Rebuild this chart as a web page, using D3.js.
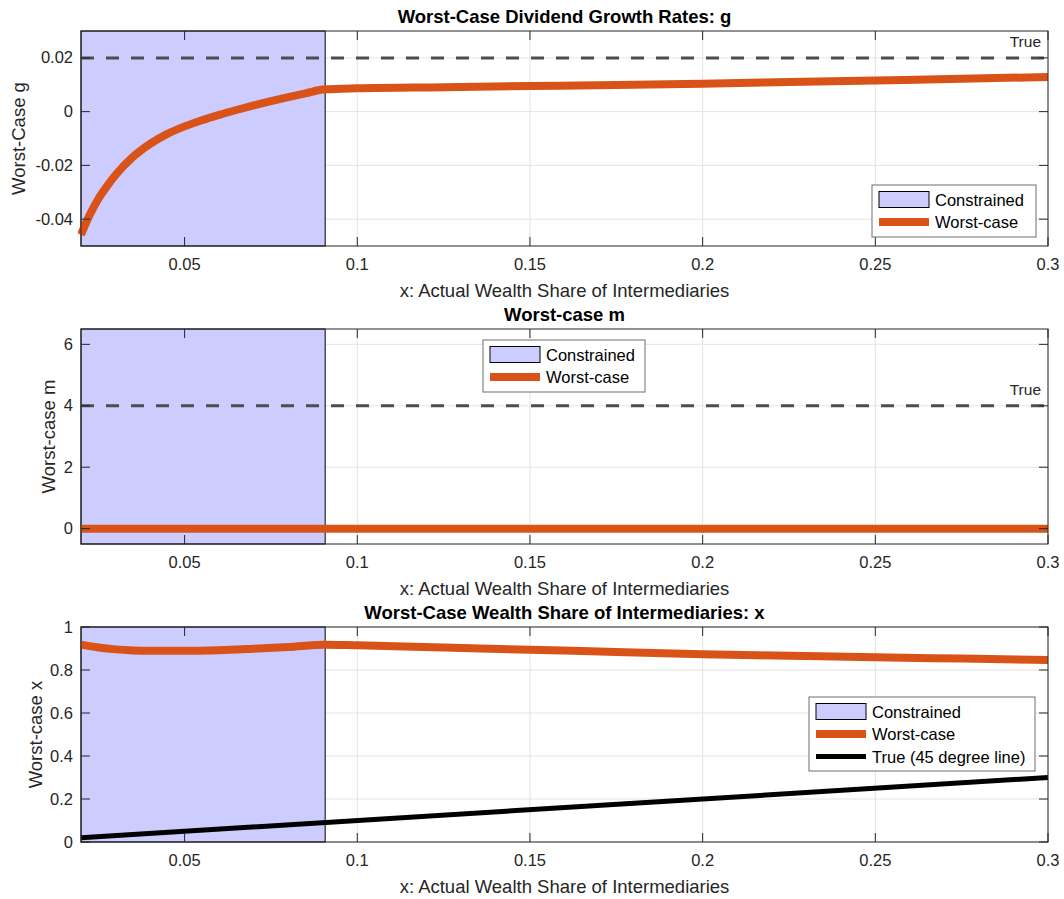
<!DOCTYPE html>
<html><head><meta charset="utf-8">
<script src="https://cdn.jsdelivr.net/npm/d3@7"></script>
<style>body{margin:0;background:#fff}svg{display:block;font-family:"Liberation Sans",Arial,Helvetica,sans-serif}</style>
</head><body><svg id="c" width="1064" height="899"></svg>
<script>
// ---- data ----
const xDomain = [0.02, 0.3];
const xTicks = [0.05, 0.1, 0.15, 0.2, 0.25, 0.3];
const constrainedEnd = 0.0907;

const gX = [0.02, 0.0225, 0.025, 0.0275, 0.03, 0.035, 0.04, 0.045, 0.05, 0.055, 0.06, 0.065, 0.07, 0.075, 0.08, 0.085, 0.0907, 0.1, 0.125, 0.15, 0.175, 0.2, 0.225, 0.25, 0.275, 0.3];
const gVals = [-0.0458, -0.0385, -0.0325, -0.0278, -0.0236, -0.0169, -0.0120, -0.0083, -0.0055, -0.0032, -0.0012, 0.0006, 0.0023, 0.0039, 0.0054, 0.0068, 0.0083, 0.0087, 0.0091, 0.0095, 0.0099, 0.0104, 0.0110, 0.0116, 0.0122, 0.0129];
const gTrue = 0.02;
const gTicks = [-0.04, -0.02, 0, 0.02];
const gTickLabels = ["-0.04", "-0.02", "0", "0.02"];

const mX = [0.02, 0.0907, 0.3];
const mVals = [0, 0, 0];
const mTrue = 4;
const mTicks = [0, 2, 4, 6];
const mTickLabels = ["0", "2", "4", "6"];

const wX = [0.02, 0.025, 0.03, 0.035, 0.04, 0.05, 0.06, 0.07, 0.08, 0.0907, 0.1, 0.125, 0.15, 0.175, 0.2, 0.225, 0.25, 0.275, 0.3];
const wVals = [0.918, 0.905, 0.896, 0.891, 0.889, 0.889, 0.892, 0.899, 0.907, 0.918, 0.915, 0.905, 0.894, 0.884, 0.873, 0.866, 0.859, 0.853, 0.847];
const trueLineX = [0.02, 0.3];
const trueLineY = [0.02, 0.3];
const wTicks = [0, 0.2, 0.4, 0.6, 0.8, 1];
const wTickLabels = ["0", "0.2", "0.4", "0.6", "0.8", "1"];

const xLabel = "x: Actual Wealth Share of Intermediaries";
const titles = ["Worst-Case Dividend Growth Rates: g", "Worst-case m", "Worst-Case Wealth Share of Intermediaries: x"];
const yLabels = ["Worst-Case g", "Worst-case m", "Worst-case x"];

// ---- styles ----
const ORANGE = "#D95319", PATCH = "#CCCCFF", AX = "#262626", GRID = "#e3e3e3", DASH = "#4d4d4d";
const L = 81, R = 1048;
const svg = d3.select("#c");
const x = d3.scaleLinear().domain(xDomain).range([L, R]);

const panels = [
  {top: 31, bottom: 246, domain: [-0.05, 0.03], ticks: gTicks, labels: gTickLabels, ylx: 25,
   series: gX.map((d,i)=>[d,gVals[i]]), trueVal: gTrue, trueLabelY: 47,
   legend: {x: 872, y: 185, w: 164, h: 52, items: ["patch","orange"]}},
  {top: 329, bottom: 544, domain: [-0.5, 6.5], ticks: mTicks, labels: mTickLabels, ylx: 55,
   series: mX.map((d,i)=>[d,mVals[i]]), trueVal: mTrue, trueLabelY: 395,
   legend: {x: 483, y: 340, w: 162, h: 52, items: ["patch","orange"]}},
  {top: 627, bottom: 842, domain: [0, 1], ticks: wTicks, labels: wTickLabels, ylx: 42,
   series: wX.map((d,i)=>[d,wVals[i]]), trueVal: null, black: trueLineX.map((d,i)=>[d,trueLineY[i]]),
   legend: {x: 809, y: 697, w: 226, h: 74, items: ["patch","orange","black"]}}
];
const legendText = {patch: "Constrained", orange: "Worst-case", black: "True (45 degree line)"};

panels.forEach((p, pi) => {
  const y = d3.scaleLinear().domain(p.domain).range([p.bottom, p.top]);
  const g = svg.append("g");
  const clipId = "clip" + pi;
  g.append("clipPath").attr("id", clipId).append("rect")
    .attr("x", L - 3).attr("y", p.top - 6).attr("width", R - L + 4).attr("height", p.bottom - p.top + 12);

  // grid
  g.append("g").selectAll("line").data(xTicks).join("line")
    .attr("x1", d=>x(d)).attr("x2", d=>x(d)).attr("y1", p.top).attr("y2", p.bottom)
    .attr("stroke", GRID).attr("stroke-width", 1);
  g.append("g").selectAll("line").data(p.ticks).join("line")
    .attr("x1", L).attr("x2", R).attr("y1", d=>y(d)).attr("y2", d=>y(d))
    .attr("stroke", GRID).attr("stroke-width", 1);

  // constrained patch
  g.append("rect").attr("x", x(xDomain[0])).attr("y", p.top)
    .attr("width", x(constrainedEnd) - x(xDomain[0])).attr("height", p.bottom - p.top)
    .attr("fill", PATCH).attr("stroke", "#000").attr("stroke-width", 1);

  // true dashed
  if (p.trueVal !== null) {
    g.append("line").attr("x1", L).attr("x2", R).attr("y1", y(p.trueVal)).attr("y2", y(p.trueVal))
      .attr("stroke", DASH).attr("stroke-width", 3).attr("stroke-dasharray", "13,12");
    g.append("text").attr("x", 1041).attr("y", p.trueLabelY).attr("text-anchor", "end")
      .attr("font-size", 15.5).attr("fill", AX).text("True");
  }

  const line = d3.line().x(d=>x(d[0])).y(d=>y(d[1])).curve(d3.curveMonotoneX);
  g.append("path").datum(p.series).attr("d", line).attr("fill", "none")
    .attr("stroke", ORANGE).attr("stroke-width", 8).attr("clip-path", `url(#${clipId})`);
  if (p.black) {
    g.append("path").datum(p.black).attr("d", d3.line().x(d=>x(d[0])).y(d=>y(d[1])))
      .attr("fill", "none").attr("stroke", "#000").attr("stroke-width", 5);
  }

  // axes box
  g.append("rect").attr("x", L).attr("y", p.top).attr("width", R - L).attr("height", p.bottom - p.top)
    .attr("fill", "none").attr("stroke", AX).attr("stroke-width", 1);
  const TL = 9;
  xTicks.forEach(t => {
    g.append("line").attr("x1", x(t)).attr("x2", x(t)).attr("y1", p.bottom).attr("y2", p.bottom - TL).attr("stroke", AX);
    g.append("line").attr("x1", x(t)).attr("x2", x(t)).attr("y1", p.top).attr("y2", p.top + TL).attr("stroke", AX);
    g.append("text").attr("x", x(t)).attr("y", p.bottom + 24).attr("text-anchor", "middle")
      .attr("font-size", 16.5).attr("fill", AX).text(String(t));
  });
  p.ticks.forEach((t, i) => {
    g.append("line").attr("x1", L).attr("x2", L + TL).attr("y1", y(t)).attr("y2", y(t)).attr("stroke", AX);
    g.append("line").attr("x1", R).attr("x2", R - TL).attr("y1", y(t)).attr("y2", y(t)).attr("stroke", AX);
    g.append("text").attr("x", L - 8).attr("y", y(t) + 5.5).attr("text-anchor", "end")
      .attr("font-size", 16.5).attr("fill", AX).text(p.labels[i]);
  });

  // labels
  g.append("text").attr("x", (L + R) / 2).attr("y", p.bottom + 51).attr("text-anchor", "middle")
    .attr("font-size", 18.5).attr("fill", AX).text(xLabel);
  g.append("text").attr("transform", `translate(${p.ylx},${(p.top + p.bottom) / 2}) rotate(-90)`)
    .attr("text-anchor", "middle").attr("font-size", 18.5).attr("fill", AX).text(yLabels[pi]);
  g.append("text").attr("x", (L + R) / 2).attr("y", p.top - 8).attr("text-anchor", "middle")
    .attr("font-size", 18.5).attr("font-weight", "bold").attr("fill", "#000").text(titles[pi]);

  // legend
  const lg = p.legend;
  g.append("rect").attr("x", lg.x).attr("y", lg.y).attr("width", lg.w).attr("height", lg.h)
    .attr("fill", "#fff").attr("stroke", "#6e6e6e").attr("stroke-width", 1);
  lg.items.forEach((it, k) => {
    const cy = lg.y + 14.5 + k * 22.5;
    const x0 = lg.x + 7, x1 = lg.x + 57;
    if (it === "patch") {
      g.append("rect").attr("x", x0).attr("y", cy - 8).attr("width", x1 - x0).attr("height", 16)
        .attr("fill", PATCH).attr("stroke", "#000").attr("stroke-width", 1);
    } else {
      g.append("line").attr("x1", x0).attr("x2", x1).attr("y1", cy).attr("y2", cy)
        .attr("stroke", it === "orange" ? ORANGE : "#000").attr("stroke-width", it === "orange" ? 8 : 5);
    }
    g.append("text").attr("x", x1 + 6).attr("y", cy + 6).attr("font-size", 16.5).attr("fill", "#000").text(legendText[it]);
  });
});
</script></body></html>
